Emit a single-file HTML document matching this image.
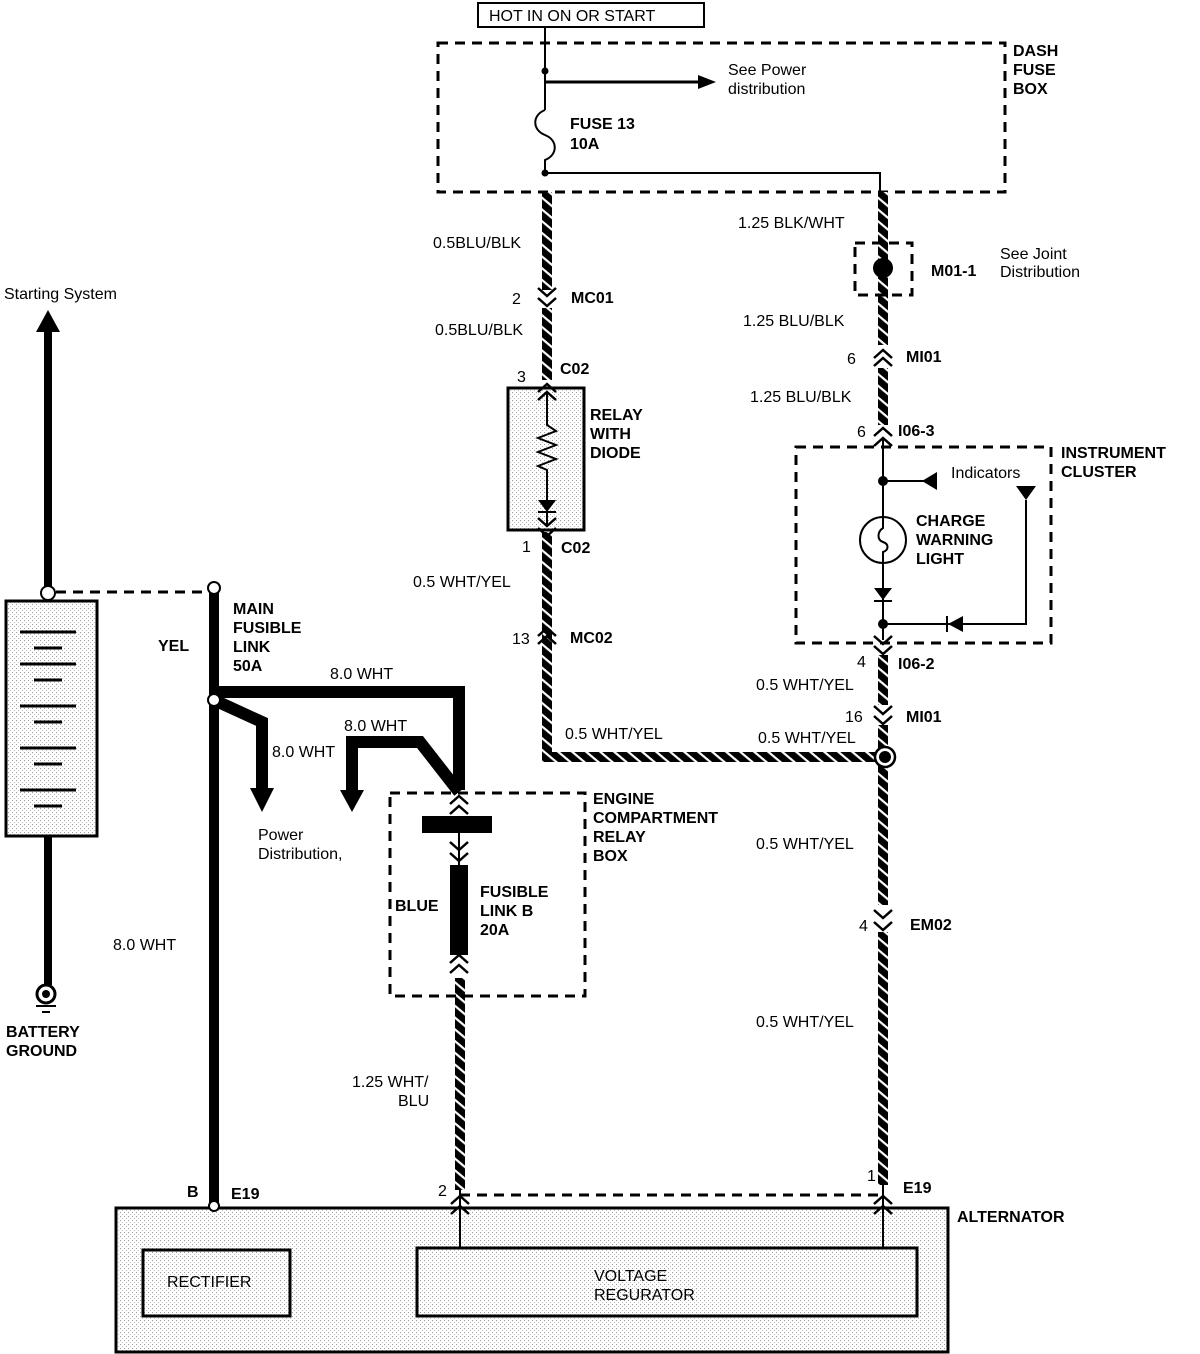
<!DOCTYPE html>
<html><head><meta charset="utf-8"><style>
html,body{margin:0;padding:0;background:#fff}
svg{display:block}
text{font-family:"Liberation Sans",sans-serif;font-size:16px;fill:#000}
.b{font-weight:bold}
.blk{stroke:url(#stripe);stroke-width:10;fill:none}
.t{stroke:#000;stroke-width:2;fill:none}
.th{stroke:#000;stroke-width:12;fill:none}
.d{stroke:#000;stroke-width:3;fill:none;stroke-dasharray:10 7}
.ch{stroke:#000;stroke-width:2.5;fill:none}
</style></head><body>
<svg width="1200" height="1354" viewBox="0 0 1200 1354" xmlns="http://www.w3.org/2000/svg">
<defs>
<pattern id="dots" width="4" height="4" patternUnits="userSpaceOnUse">
<rect width="4" height="4" fill="#fff"/><rect width="1" height="1" fill="#999"/><rect x="2" y="2" width="1" height="1" fill="#bbb"/>
</pattern>
<pattern id="stripe" width="9" height="9" patternUnits="userSpaceOnUse" patternTransform="rotate(40)">
<rect width="9" height="9" fill="#000"/><rect width="9" height="2.2" fill="#fff"/>
</pattern>
</defs>

<rect x="478" y="3" width="226" height="24" fill="#fff" stroke="#000" stroke-width="2"/>
<text x="489" y="21">HOT IN ON OR START</text>

<rect x="438" y="43" width="567" height="149" fill="url(#dots)" class="d"/>
<text class="b" x="1013" y="56">DASH</text>
<text class="b" x="1013" y="75">FUSE</text>
<text class="b" x="1013" y="94">BOX</text>
<line class="t" x1="545" y1="27" x2="545" y2="110"/>
<circle cx="545" cy="71" r="3.5"/>
<line x1="545" y1="82" x2="700" y2="82" stroke="#000" stroke-width="3"/>
<polygon points="698,75 716,82 698,89"/>
<text x="728" y="75">See Power</text>
<text x="728" y="94">distribution</text>
<path class="t" d="M545 110 C532 115,532 130,545 135 C558 140,558 155,545 160 L545 173"/>
<text class="b" x="570" y="129">FUSE 13</text>
<text class="b" x="570" y="149">10A</text>
<circle cx="545" cy="173" r="3.5"/>
<polyline class="t" points="545,173 880,173 880,192"/>

<path class="blk" d="M547 192 V290 M547 308 V380 M547 532 V757 H880"/>
<polyline class="ch" points="538,288 547,296 556,288"/>
<polyline class="ch" points="538,298 547,306 556,298"/>
<text x="512" y="304">2</text><text class="b" x="571" y="303">MC01</text>
<text x="433" y="248">0.5BLU/BLK</text>
<text x="435" y="335">0.5BLU/BLK</text>
<text x="517" y="382">3</text><text class="b" x="560" y="374">C02</text>
<rect x="508" y="388" width="76" height="142" fill="url(#dots)" stroke="#000" stroke-width="3"/>
<polyline class="ch" points="538,392 547,384 556,392"/>
<polyline class="ch" points="538,400 547,392 556,400"/>
<polyline class="t" points="547,392 547,425 556,431 538,438 556,445 538,452 556,459 538,466 547,470 547,500"/>
<polygon points="538,500 556,500 547,512"/>
<line class="t" x1="538" y1="512" x2="556" y2="512"/>
<line class="t" x1="547" y1="512" x2="547" y2="526"/>
<polyline class="ch" points="538,518 547,526 556,518"/>
<polyline class="ch" points="538,528 547,536 556,528"/>
<text class="b" x="590" y="420">RELAY</text>
<text class="b" x="590" y="439">WITH</text>
<text class="b" x="590" y="458">DIODE</text>
<text x="522" y="552">1</text><text class="b" x="561" y="553">C02</text>
<text x="413" y="587">0.5 WHT/YEL</text>
<polyline class="ch" points="538,636 547,628 556,636"/>
<polyline class="ch" points="538,644 547,636 556,644"/>
<text x="512" y="644">13</text><text class="b" x="570" y="643">MC02</text>
<text x="565" y="739">0.5 WHT/YEL</text>

<path class="blk" d="M883 192 V345 M883 368 V425 M883 655 V705 M883 725 V905 M883 932 V1185"/>
<text x="738" y="228">1.25 BLK/WHT</text>
<rect x="855" y="243" width="57" height="52" fill="none" class="d" stroke-dasharray="8 6"/>
<circle cx="883" cy="268" r="10"/>
<text class="b" x="931" y="276">M01-1</text>
<text x="1000" y="259">See Joint</text>
<text x="1000" y="277">Distribution</text>
<text x="743" y="326">1.25 BLU/BLK</text>
<polyline class="ch" points="874,358 883,350 892,358"/>
<polyline class="ch" points="874,366 883,358 892,366"/>
<text x="847" y="364">6</text><text class="b" x="906" y="362">MI01</text>
<text x="750" y="402">1.25 BLU/BLK</text>
<polyline class="ch" points="874,436 883,428 892,436"/>
<polyline class="ch" points="874,446 883,438 892,446"/>
<text x="857" y="437">6</text><text class="b" x="898" y="436">I06-3</text>

<rect x="796" y="447" width="255" height="196" fill="url(#dots)" class="d"/>
<text class="b" x="1061" y="458">INSTRUMENT</text>
<text class="b" x="1061" y="477">CLUSTER</text>
<line class="t" x1="883" y1="438" x2="883" y2="640"/>
<circle cx="883" cy="481" r="5"/>
<line class="t" x1="883" y1="481" x2="925" y2="481"/>
<polygon points="937,472 937,490 922,481"/>
<text x="951" y="478">Indicators</text>
<polygon points="1016,486 1036,486 1026,500"/>
<polyline class="t" points="1026,500 1026,624 883,624"/>
<polygon points="948,624 963,616 963,632"/>
<line class="t" x1="947" y1="616" x2="947" y2="632"/>
<circle cx="883" cy="540" r="23" fill="#fff" stroke="#000" stroke-width="2"/>
<path class="t" d="M883 515 V528 C877 532,877 540,883 542 C889 544,889 550,883 552 V567"/>
<polygon points="874,588 892,588 883,600"/>
<line class="t" x1="874" y1="601" x2="892" y2="601"/>
<circle cx="883" cy="624" r="5"/>
<text class="b" x="916" y="526">CHARGE</text>
<text class="b" x="916" y="545">WARNING</text>
<text class="b" x="916" y="564">LIGHT</text>
<polyline class="ch" points="874,636 883,644 892,636"/>
<polyline class="ch" points="874,646 883,654 892,646"/>
<text x="857" y="667">4</text><text class="b" x="898" y="669">I06-2</text>
<text x="756" y="690">0.5 WHT/YEL</text>
<polyline class="ch" points="874,706 883,714 892,706"/>
<polyline class="ch" points="874,716 883,724 892,716"/>
<text x="845" y="722">16</text><text class="b" x="906" y="722">MI01</text>
<text x="758" y="743">0.5 WHT/YEL</text>
<circle cx="885" cy="757" r="10" fill="#fff" stroke="#000" stroke-width="2.5"/>
<circle cx="885" cy="757" r="6"/>
<text x="756" y="849">0.5 WHT/YEL</text>
<polyline class="ch" points="874,910 883,918 892,910"/>
<polyline class="ch" points="874,922 883,930 892,922"/>
<text x="859" y="931">4</text><text class="b" x="910" y="930">EM02</text>
<text x="756" y="1027">0.5 WHT/YEL</text>
<text x="867" y="1181">1</text><text class="b" x="903" y="1193">E19</text>

<rect x="116" y="1208" width="832" height="144" fill="url(#dots)" stroke="#000" stroke-width="3"/>
<text class="b" x="957" y="1222">ALTERNATOR</text>
<rect x="143" y="1250" width="147" height="66" fill="url(#dots)" stroke="#000" stroke-width="3"/>
<text x="167" y="1287">RECTIFIER</text>
<rect x="417" y="1248" width="500" height="68" fill="url(#dots)" stroke="#000" stroke-width="3"/>
<text x="594" y="1281">VOLTAGE</text>
<text x="594" y="1300">REGURATOR</text>
<line class="d" x1="460" y1="1195" x2="883" y2="1195" stroke-width="2" stroke-dasharray="8 6"/>
<line class="t" x1="883" y1="1185" x2="883" y2="1248"/>
<polyline class="ch" points="874,1204 883,1196 892,1204"/>
<polyline class="ch" points="874,1214 883,1206 892,1214"/>
<line class="t" x1="460" y1="1190" x2="460" y2="1248"/>
<polyline class="ch" points="451,1204 460,1196 469,1204"/>
<polyline class="ch" points="451,1214 460,1206 469,1214"/>
<text x="438" y="1196">2</text>

<path class="blk" d="M460 978 V1190"/>
<text x="352" y="1087">1.25 WHT/</text>
<text x="398" y="1106">BLU</text>

<rect x="390" y="793" width="195" height="203" fill="url(#dots)" class="d"/>
<text class="b" x="593" y="804">ENGINE</text>
<text class="b" x="593" y="823">COMPARTMENT</text>
<text class="b" x="593" y="842">RELAY</text>
<text class="b" x="593" y="861">BOX</text>
<rect x="422" y="816" width="70" height="17"/>
<polyline class="ch" points="450,804 459,796 468,804"/>
<polyline class="ch" points="450,814 459,806 468,814"/>
<line class="t" x1="459" y1="833" x2="459" y2="865"/>
<polyline class="ch" points="450,842 459,850 468,842"/>
<polyline class="ch" points="450,853 459,861 468,853"/>
<rect x="450" y="865" width="18" height="90"/>
<polyline class="ch" points="450,963 459,955 468,963"/>
<polyline class="ch" points="450,973 459,965 468,973"/>
<text class="b" x="395" y="911">BLUE</text>
<text class="b" x="480" y="897">FUSIBLE</text>
<text class="b" x="480" y="916">LINK B</text>
<text class="b" x="480" y="935">20A</text>

<polyline class="th" points="214,692 459,692 459,790"/>
<polyline class="th" points="214,700 262,722 262,790"/>
<polygon points="250,788 274,788 262,812"/>
<polyline class="th" points="352,792 352,742 420,742 459,792"/>
<polygon points="340,790 364,790 352,812"/>
<text x="330" y="679">8.0 WHT</text>
<text x="344" y="731">8.0 WHT</text>
<text x="272" y="757">8.0 WHT</text>
<text x="258" y="840">Power</text>
<text x="258" y="859">Distribution,</text>

<line x1="214" y1="588" x2="214" y2="1205" stroke="#000" stroke-width="10"/>
<circle cx="214" cy="588" r="6" fill="#fff" stroke="#000" stroke-width="2"/>
<circle cx="214" cy="700" r="6" fill="#fff" stroke="#000" stroke-width="2"/>
<circle cx="214" cy="1206" r="5" fill="#fff" stroke="#000" stroke-width="2"/>
<text class="b" x="233" y="614">MAIN</text>
<text class="b" x="233" y="633">FUSIBLE</text>
<text class="b" x="233" y="652">LINK</text>
<text class="b" x="233" y="671">50A</text>
<text class="b" x="158" y="651">YEL</text>
<text x="113" y="950">8.0 WHT</text>
<text class="b" x="187" y="1197">B</text><text class="b" x="231" y="1199">E19</text>

<text x="4" y="299">Starting System</text>
<polygon points="36,332 60,332 48,310"/>
<line x1="48" y1="330" x2="48" y2="587" stroke="#000" stroke-width="8"/>
<circle cx="48" cy="593" r="7" fill="#fff" stroke="#000" stroke-width="2"/>
<line class="d" x1="56" y1="592" x2="210" y2="592" stroke-width="2" stroke-dasharray="8 6"/>
<rect x="6" y="601" width="91" height="235" fill="url(#dots)" stroke="#000" stroke-width="3"/>
<g stroke="#000" stroke-width="3">
<line x1="20" y1="632" x2="76" y2="632"/><line x1="34" y1="648" x2="62" y2="648"/>
<line x1="20" y1="664" x2="76" y2="664"/><line x1="34" y1="680" x2="62" y2="680"/>
<line x1="20" y1="706" x2="76" y2="706"/><line x1="34" y1="722" x2="62" y2="722"/>
<line x1="20" y1="748" x2="76" y2="748"/><line x1="34" y1="764" x2="62" y2="764"/>
<line x1="20" y1="790" x2="76" y2="790"/><line x1="34" y1="806" x2="62" y2="806"/>
</g>
<line x1="48" y1="836" x2="48" y2="985" stroke="#000" stroke-width="8"/>
<circle cx="46" cy="994" r="9" fill="#fff" stroke="#000" stroke-width="3"/>
<circle cx="46" cy="994" r="4"/>
<line x1="36" y1="1006" x2="56" y2="1006" stroke="#000" stroke-width="2"/>
<line x1="42" y1="1012" x2="50" y2="1012" stroke="#000" stroke-width="2"/>
<text class="b" x="6" y="1037">BATTERY</text>
<text class="b" x="6" y="1056">GROUND</text>
</svg>
</body></html>
